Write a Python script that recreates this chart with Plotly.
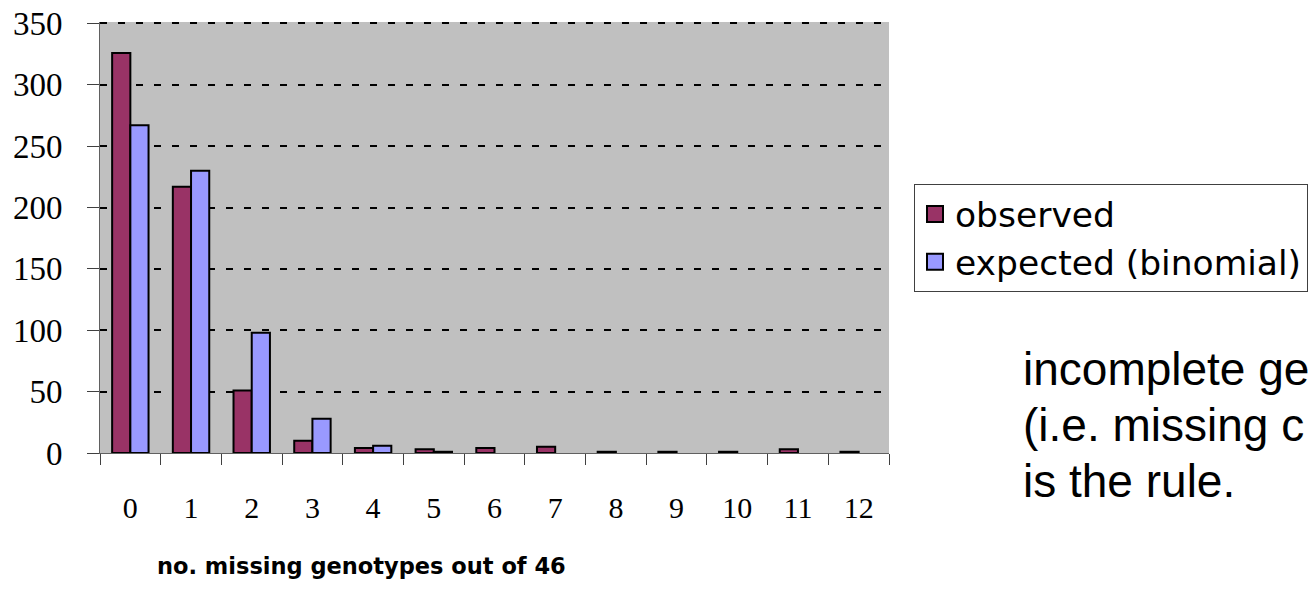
import plotly.graph_objects as go

categories = ["0", "1", "2", "3", "4", "5", "6", "7", "8", "9", "10", "11", "12"]
observed = [326, 217, 51, 10, 4, 3, 4, 5, 1, 1, 1, 3, 1]
expected = [267, 230, 98, 28, 6, 1, 0, 0, 0, 0, 0, 0, 0]
y_ticks = [0, 50, 100, 150, 200, 250, 300, 350]
x_title = "no. missing genotypes out of 46"
side_text = ["incomplete ge", "(i.e. missing c", "is the rule."]
series_names = ["observed", "expected (binomial)"]
series_colors = ["#993366", "#9999FF"]

W, H = 1314, 589
L, R, T, B = 100, 425, 22, 136
plot_h = H - T - B
plot_w = W - L - R


def px_y(py):
    return (H - B - py) / plot_h


def px_x(px):
    return (px - L) / plot_w


fig = go.Figure()
for vals, name, col in zip([observed, expected], series_names, series_colors):
    fig.add_trace(go.Bar(
        x=categories, y=vals, name=name, showlegend=False,
        marker=dict(color=col,
                    line=dict(color="black",
                              width=[2 if v > 0 else 0 for v in vals])),
    ))
# legend entries (square swatches like the original)
for name, col in zip(series_names, series_colors):
    fig.add_trace(go.Scatter(
        x=[None], y=[None], name=name, mode="markers",
        marker=dict(symbol="square", size=20, color=col,
                    line=dict(color="black", width=2)),
    ))

fig.update_layout(
    width=W, height=H,
    margin=dict(l=L, r=R, t=T, b=B, pad=0, autoexpand=False),
    paper_bgcolor="white",
    plot_bgcolor="#C0C0C0",
    barmode="group",
    bargap=0.4,
    bargroupgap=0,
    showlegend=True,
    legend=dict(
        x=px_x(914), xanchor="left",
        y=px_y(184), yanchor="top",
        font=dict(family="DejaVu Sans", size=34.5, color="black"),
        bgcolor="white",
        bordercolor="#404040",
        borderwidth=1,
        itemsizing="trace",
        tracegroupgap=0,
    ),
    xaxis=dict(
        type="category",
        automargin=False,
        showline=True, linecolor="#606060", linewidth=1,
        ticks="outside", ticklen=11, tickcolor="#404040", tickwidth=1,
        tickson="boundaries",
        tickfont=dict(family="Liberation Serif", size=30, color="black"),
        ticklabelstandoff=28,
        showgrid=False,
    ),
    yaxis=dict(
        range=[0, 351.2],
        automargin=False,
        tickvals=y_ticks,
        showline=True, linecolor="#606060", linewidth=1,
        ticks="outside", ticklen=12, tickcolor="#404040", tickwidth=1,
        tickfont=dict(family="Liberation Serif", size=33, color="black"),
        ticklabelstandoff=18,
        showgrid=True, gridcolor="black", gridwidth=2, griddash="7px,11px",
        zeroline=False,
    ),
)

fig.add_annotation(
    text="<b>" + x_title + "</b>",
    xref="paper", yref="paper",
    x=px_x(361), y=px_y(566), xanchor="center", yanchor="middle",
    showarrow=False,
    font=dict(family="DejaVu Sans", size=22.5, color="black"),
)

for line, py in zip(side_text, [369, 425, 481]):
    fig.add_annotation(
        text=line,
        xref="paper", yref="paper",
        x=px_x(1021), y=px_y(py), xanchor="left", yanchor="middle",
        showarrow=False,
        font=dict(family="Liberation Sans", size=46, color="black"),
    )

fig.write_html("out.html")
